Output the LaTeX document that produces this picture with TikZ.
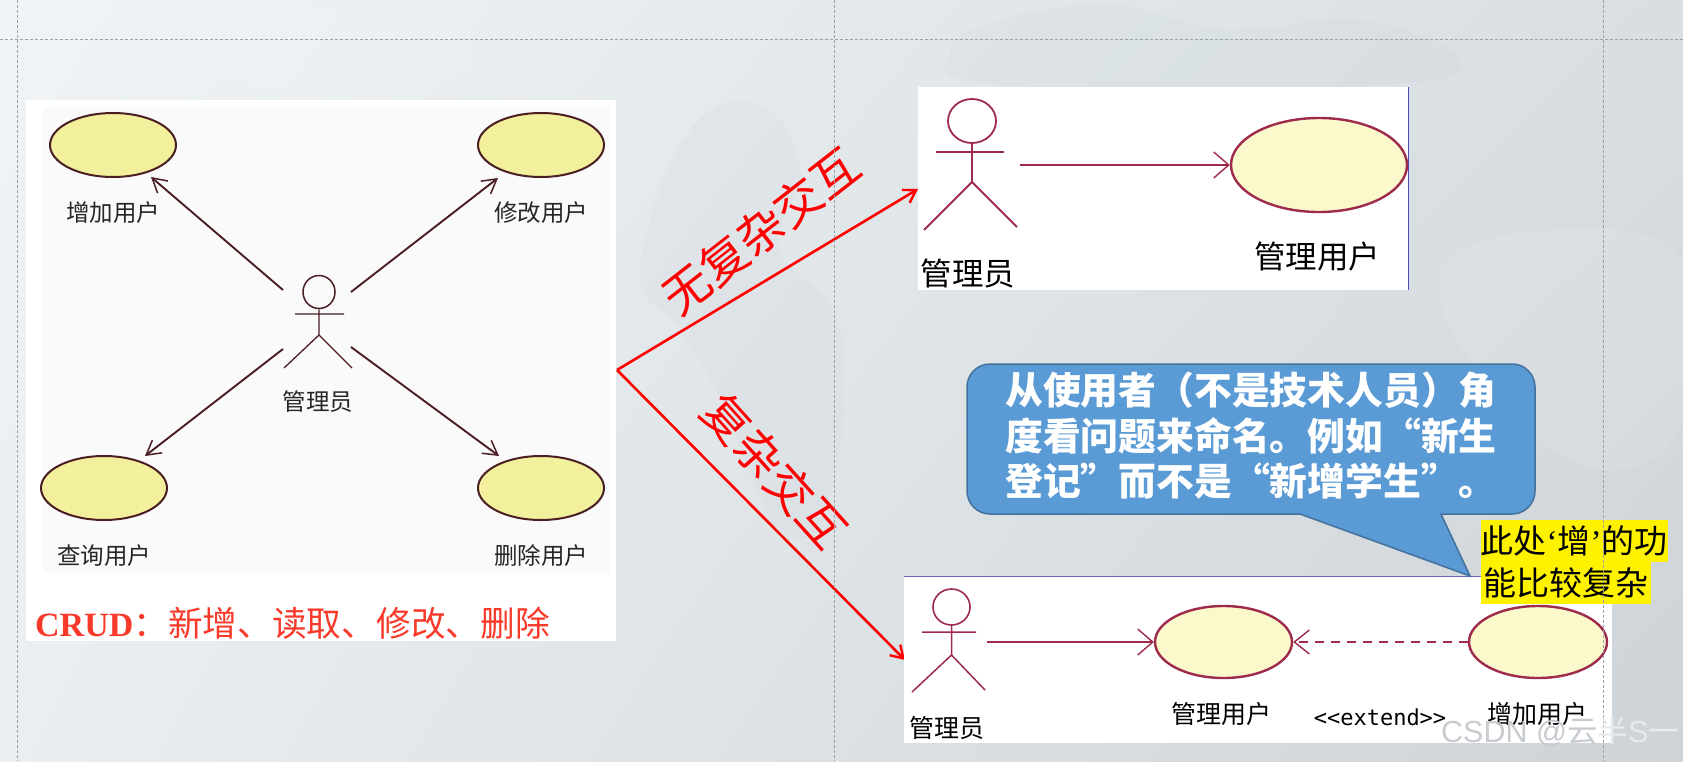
\documentclass[tikz,border=0pt]{standalone}
\usepackage{fontspec}
\setmainfont{Noto Sans CJK SC}
\newfontfamily\latserif{Liberation Serif}[BoldFont={Liberation Serif Bold}]
\newfontfamily\latmono{DejaVu Sans Mono}
\newfontfamily\latsans{Liberation Sans}
\usetikzlibrary{arrows.meta,shapes.geometric,shadings}
\definecolor{oldfill}{HTML}{F2F09C}
\definecolor{oldline}{HTML}{4A1E22}
\definecolor{newfill}{HTML}{FBF8CB}
\definecolor{newline}{HTML}{9E2A4C}
\definecolor{crudred}{HTML}{F93A2A}
\definecolor{callfill}{HTML}{5B9BD5}
\definecolor{callline}{HTML}{41719C}
\definecolor{guide}{HTML}{9AA0A4}
\definecolor{bgtl}{HTML}{F0F4F6}
\definecolor{bgtr}{HTML}{D8DEE2}
\definecolor{bgbl}{HTML}{EAEEF0}
\definecolor{bgbr}{HTML}{CDD3D7}
\definecolor{mapblob}{HTML}{C6CED4}
\definecolor{wmarkA}{HTML}{C8CCD0}
\definecolor{wmarkB}{HTML}{E8EBED}
\tikzset{
  x=1pt,y=-1pt,
  oldcase/.style={ellipse,draw=oldline,fill=oldfill,line width=2pt,minimum width=126pt,minimum height=64pt,inner sep=0pt},
  newcase/.style={ellipse,draw=newline,fill=newfill,line width=2.4pt,inner sep=0pt},
  oldarrow/.style={draw=oldline,line width=1.9pt,-{Straight Barb[length=14pt,width=16pt,line width=1.5pt]}},
  newarrow/.style={draw=newline,line width=2.2pt,-{Straight Barb[length=15pt,width=26pt,line width=1.4pt]}},
  redarrow/.style={draw=red,line width=2.6pt,-{Straight Barb[length=12pt,width=15pt,line width=2.4pt]}},
  oldlabel/.style={inner sep=0pt,text=black!85,font=\fontsize{23.5}{24}\selectfont},
  newlabel/.style={inner sep=0pt,text=black,font=\fontsize{31.5}{32}\selectfont},
  botlabel/.style={inner sep=0pt,text=black,font=\fontsize{25}{25}\selectfont},
  redtext/.style={inner sep=0pt,text=red,font=\fontsize{47}{47}\selectfont},
  yellowbox/.style={inner sep=0pt,fill=yellow,anchor=west,text=black,minimum height=42pt,font=\fontsize{33}{34}\selectfont},
  guideline/.style={draw=guide,line width=.7pt,dash pattern=on 3pt off 2pt},
  panel/.style={fill=white,draw=none},
  mapdark/.style={fill=mapblob,opacity=.13},
  maplight/.style={fill=white,opacity=.09}
}
\begin{document}
\begin{tikzpicture}
\useasboundingbox (0,0) rectangle (1683,761);
\clip (0,0) rectangle (1683,761);
% background
\shade[shading=bilinear interpolation,upper left=bgtl,upper right=bgtr,lower left=bgbl,lower right=bgbr] (0,0) rectangle (1683,761);
\fill[mapdark] plot[smooth cycle,tension=.7] coordinates {(690,130) (760,105) (800,170) (780,250) (840,330) (830,500) (780,530) (720,400) (680,330) (640,270)};
\fill[mapdark] plot[smooth cycle,tension=.7] coordinates {(1000,20) (1110,5) (1230,30) (1360,20) (1460,60) (1380,85) (1000,85) (950,50)};
\fill[maplight] plot[smooth cycle,tension=.7] coordinates {(1440,280) (1540,230) (1683,260) (1683,420) (1600,470) (1500,400)};
\fill[maplight] plot[smooth cycle,tension=.7] coordinates {(200,5) (340,10) (470,40) (430,90) (240,80)};
% left panel
\fill[panel] (26,100) rectangle (616,641);
\fill[black!2] (43,107) rectangle (610,573);
\node[oldcase] (uA) at (113,145) {};
\node[oldcase] (uB) at (541,145) {};
\node[oldcase] (uC) at (104,488) {};
\node[oldcase] (uD) at (541,488) {};
\node[oldlabel] (lA) at (113,213) {增加用户};
\node[oldlabel] (lB) at (541,213) {修改用户};
\node[oldlabel] (lC) at (104,556) {查询用户};
\node[oldlabel] (lD) at (541,556) {删除用户};
\node[oldlabel] (lE) at (318,402) {管理员};
\node[draw=oldline,line width=1.5pt,ellipse,minimum width=32pt,minimum height=33pt,inner sep=0pt] (h1) at (319,292) {};
\coordinate (h1arml) at (295,314);
\coordinate (h1armr) at (344,314);
\coordinate (h1hip) at (319,335);
\coordinate (h1fl) at (284,368);
\coordinate (h1fr) at (352,368);
\draw[oldline,line width=1.3pt] (h1.south) -- (h1hip) (h1arml) -- (h1armr) (h1fl) -- (h1hip) -- (h1fr);
\coordinate (s1) at (283,290);
\coordinate (s2) at (351,292);
\coordinate (s3) at (283,349);
\coordinate (s4) at (351,347);
\coordinate (e1) at (151,177);
\coordinate (e2) at (498,178);
\coordinate (e3) at (145,456);
\coordinate (e4) at (499,456);
\draw[oldarrow] (s1) -- (e1);
\draw[oldarrow] (s2) -- (e2);
\draw[oldarrow] (s3) -- (e3);
\draw[oldarrow] (s4) -- (e4);
\node[inner sep=0pt,anchor=west,text=crudred] (crud) at (35,623) {{\latserif\bfseries\fontsize{34}{34}\selectfont CRUD}{\fontsize{34.7}{35}\selectfont ：新增、读取、修改、删除}};
% red branches
\coordinate (fork) at (617,370);
\coordinate (r1) at (918,189);
\coordinate (r2) at (905,660);
\draw[redarrow] (fork) -- (r1);
\draw[redarrow] (fork) -- (r2);
\node[redtext,rotate=38] (t1) at (761,231) {无复杂交互};
\node[redtext,rotate=-48] (t2) at (775,471) {复杂交互};
% top right panel
\fill[panel] (918,87) rectangle (1408,290);
\draw[blue!60!black!70,line width=.8pt] (1408,87) -- (1408,290);
\node[newcase,minimum width=176pt,minimum height=94pt] (m1) at (1319,165) {};
\node[draw=newline,line width=1.8pt,ellipse,minimum width=48pt,minimum height=44pt,inner sep=0pt] (h2) at (972,121) {};
\coordinate (h2arml) at (936,152);
\coordinate (h2armr) at (1004,152);
\coordinate (h2hip) at (972,182);
\coordinate (h2fl) at (924,230);
\coordinate (h2fr) at (1017,227);
\draw[newline,line width=1.8pt] (h2.south) -- (h2hip) (h2arml) -- (h2armr) (h2fl) -- (h2hip) -- (h2fr);
\coordinate (a2) at (1020,165);
\draw[newarrow] (a2) -- (m1.west);
\node[newlabel] (l2a) at (968,274) {管理员};
\node[newlabel] (l2b) at (1317,257) {管理用户};
% bottom panel
\fill[panel] (904,576) rectangle (1612,743);
\draw[blue!60!black!60,line width=.8pt] (904,576) -- (1612,576);
\node[newcase,minimum width=137pt,minimum height=72pt] (m2) at (1223.5,642) {};
\node[newcase,minimum width=138pt,minimum height=72pt] (m3) at (1538,642) {};
\node[draw=newline,line width=1.6pt,ellipse,minimum width=37pt,minimum height=36pt,inner sep=0pt] (h3) at (951.5,607) {};
\coordinate (h3arml) at (922,632);
\coordinate (h3armr) at (976,632);
\coordinate (h3hip) at (951.5,655);
\coordinate (h3fl) at (912,692);
\coordinate (h3fr) at (985,690);
\draw[newline,line width=1.5pt] (h3.south) -- (h3hip) (h3arml) -- (h3armr) (h3fl) -- (h3hip) -- (h3fr);
\coordinate (a3) at (987,642);
\draw[newarrow] (a3) -- (m2.west);
\draw[newline,line width=2pt,dash pattern=on 9pt off 7pt,-{Straight Barb[length=15pt,width=24pt,line width=1.4pt]}] (m3.west) -- (m2.east);
\node[botlabel] (l3a) at (947,728) {管理员};
\node[botlabel] (l3b) at (1221,714) {管理用户};
\node[inner sep=0pt,text=black,font=\latmono\fontsize{22}{22}\selectfont] (l3c) at (1380,717) {<<extend>>};
\node[botlabel] (l3d) at (1537,714) {增加用户};
% callout
\draw[fill=callfill,draw=callline,line width=1.5pt] (1300,514) -- (1470,576) -- (1441,514) [rounded corners=23pt] -- (1535,514) -- (1535,364) -- (967,364) -- (967,514) [sharp corners] -- cycle;
\node[inner sep=0pt,anchor=north west,text=white,align=left,font=\bfseries\fontsize{37.8}{45.5}\selectfont] (callt) at (1005,372) {从使用者（不是技术人员）角\\度看问题来命名。例如“新生\\登记”而不是“新增学生”。};
% yellow notes
\node[yellowbox,minimum width=187pt] (y1) at (1480.5,541) {此处{\latserif ‘}增{\latserif ’}的功};
\node[yellowbox,minimum width=170pt,align=left] (y2) at (1480.5,582.5) {能比较复杂};
% guides
\draw[guideline] (0,39) -- (1683,39);
\draw[guideline] (17,0) -- (17,761);
\draw[guideline] (834,0) -- (834,761);
\draw[guideline] (1603.5,0) -- (1603.5,761);
% watermark
\node[inner sep=0pt,anchor=west,font=\fontsize{30.5}{30}\selectfont] (wm) at (1441,732) {\textcolor{wmarkA}{{\latsans CSDN @}云}\textcolor{wmarkB}{半{\latsans S}一}};
\end{tikzpicture}
\end{document}
